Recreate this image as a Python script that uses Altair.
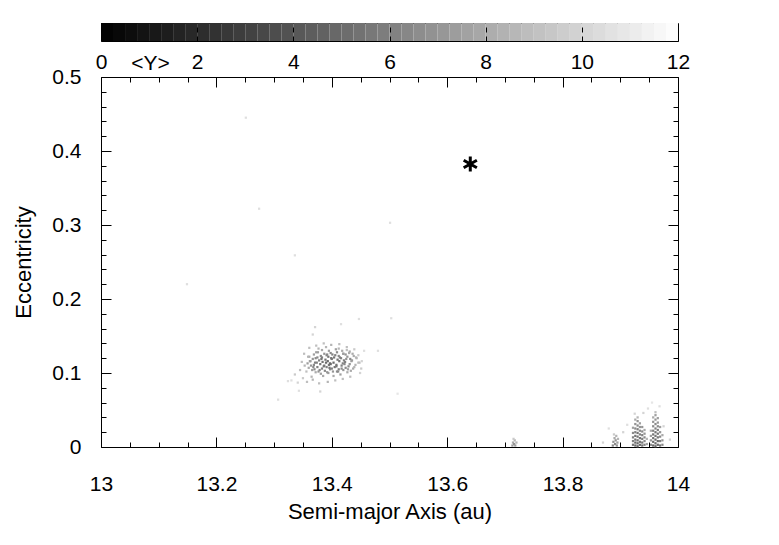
import altair as alt
import pandas as pd

FONT = "Liberation Sans"
W, H = 577, 370

# ---- stable island near a = 13.4 au (dense core) ----
core_a = [13.372, 13.381, 13.394, 13.402, 13.415, 13.427,
          13.366, 13.377, 13.388, 13.397, 13.409, 13.420, 13.433,
          13.360, 13.370, 13.383, 13.391, 13.400, 13.412, 13.424, 13.437,
          13.364, 13.375, 13.386, 13.395, 13.405, 13.417, 13.429, 13.441,
          13.358, 13.369, 13.380, 13.390, 13.398, 13.408, 13.419, 13.431,
          13.363, 13.374, 13.384, 13.393, 13.403, 13.413, 13.423, 13.435, 13.446,
          13.367, 13.378, 13.389, 13.399, 13.410, 13.421, 13.432, 13.443,
          13.361, 13.372, 13.383, 13.394, 13.404, 13.416, 13.427, 13.438,
          13.369, 13.381, 13.391, 13.401, 13.412, 13.424, 13.436,
          13.376, 13.387, 13.398, 13.409, 13.420, 13.431,
          13.383, 13.395, 13.407, 13.418]
core_e = [0.101, 0.099, 0.100, 0.102, 0.098, 0.101,
          0.104, 0.102, 0.103, 0.105, 0.102, 0.104, 0.103,
          0.107, 0.105, 0.106, 0.108, 0.106, 0.105, 0.107, 0.106,
          0.110, 0.108, 0.109, 0.111, 0.108, 0.110, 0.109, 0.111,
          0.113, 0.111, 0.112, 0.114, 0.112, 0.111, 0.113, 0.112,
          0.116, 0.114, 0.115, 0.116, 0.114, 0.116, 0.115, 0.117, 0.114,
          0.119, 0.117, 0.118, 0.120, 0.118, 0.117, 0.119, 0.120,
          0.122, 0.120, 0.121, 0.122, 0.121, 0.120, 0.122, 0.123,
          0.125, 0.123, 0.124, 0.125, 0.123, 0.125, 0.126,
          0.128, 0.126, 0.127, 0.128, 0.126, 0.129,
          0.131, 0.130, 0.132, 0.130]
core_y = [8.0, 7.5, 7.5, 7.0, 7.5, 8.0,
          7.5, 7.0, 6.5, 6.5, 6.5, 7.0, 8.0,
          8.0, 6.5, 6.0, 6.0, 6.0, 6.0, 6.5, 8.0,
          7.0, 6.0, 5.5, 5.5, 5.5, 6.0, 6.5, 8.5,
          7.5, 6.5, 5.5, 5.0, 5.0, 5.5, 6.0, 7.0,
          7.0, 6.0, 5.3, 5.0, 5.0, 5.3, 6.0, 7.0, 9.0,
          7.0, 6.0, 5.5, 5.3, 5.3, 6.0, 6.5, 8.5,
          8.0, 6.5, 6.0, 5.5, 5.5, 6.0, 7.0, 8.0,
          7.5, 6.5, 6.0, 6.0, 6.5, 7.0, 8.0,
          7.5, 7.0, 6.5, 6.5, 7.0, 8.0,
          8.0, 7.5, 7.5, 8.0]

# ---- extra irregular points inside the island ----
core2_a = [13.353, 13.356, 13.359, 13.365, 13.371, 13.373, 13.379, 13.382,
           13.385, 13.387, 13.392, 13.396, 13.400, 13.403, 13.406, 13.411,
           13.414, 13.417, 13.422, 13.425, 13.428, 13.430, 13.434, 13.439,
           13.442, 13.448, 13.451, 13.377, 13.390, 13.412, 13.426, 13.368,
           13.362, 13.397, 13.408, 13.392, 13.420, 13.375]
core2_e = [0.110, 0.102, 0.122, 0.095, 0.114, 0.128, 0.104, 0.119,
           0.096, 0.110, 0.125, 0.107, 0.119, 0.096, 0.124, 0.102,
           0.121, 0.106, 0.112, 0.119, 0.105, 0.127, 0.116, 0.108,
           0.121, 0.114, 0.106, 0.133, 0.135, 0.133, 0.131, 0.108,
           0.116, 0.113, 0.109, 0.101, 0.126, 0.121]
core2_y = [8.5, 9.0, 8.5, 8.5, 6.0, 7.5, 6.5, 5.5,
           8.0, 5.5, 6.5, 5.5, 5.5, 8.0, 6.0, 6.5,
           6.0, 6.5, 6.5, 7.0, 7.5, 8.0, 7.5, 8.5,
           8.5, 9.0, 9.5, 8.5, 8.5, 8.5, 9.0, 6.5,
           7.5, 5.0, 5.5, 7.0, 7.5, 6.5]

# ---- sparse halo around the island ----
halo_a = [13.336, 13.341, 13.345, 13.348, 13.350, 13.352, 13.357, 13.361,
          13.367, 13.373, 13.378, 13.386, 13.393, 13.399, 13.406, 13.413,
          13.419, 13.426, 13.432, 13.439, 13.446, 13.449, 13.452, 13.456,
          13.343, 13.330, 13.367, 13.371, 13.416, 13.447, 13.503, 13.480,
          13.324, 13.307, 13.514, 13.380]
halo_e = [0.098, 0.087, 0.104, 0.115, 0.093, 0.126, 0.088, 0.134,
          0.091, 0.137, 0.086, 0.140, 0.088, 0.138, 0.090, 0.139,
          0.092, 0.135, 0.095, 0.132, 0.124, 0.100, 0.116, 0.130,
          0.076, 0.090, 0.152, 0.162, 0.166, 0.173, 0.174, 0.130,
          0.089, 0.064, 0.072, 0.075]
halo_y = [9.5, 10.0, 9.0, 9.0, 9.5, 9.0, 9.0, 9.0,
          8.5, 9.0, 9.0, 9.0, 8.5, 8.5, 9.0, 9.0,
          9.0, 9.0, 9.0, 9.5, 9.5, 10.0, 10.0, 10.5,
          10.5, 10.5, 10.0, 10.0, 10.5, 10.5, 10.5, 10.5,
          10.5, 10.5, 10.8, 10.0]

# ---- isolated faint points ----
iso_a = [13.251, 13.274, 13.501, 13.336, 13.149]
iso_e = [0.445, 0.322, 0.303, 0.259, 0.220]
iso_y = [10.5, 10.5, 10.5, 10.5, 10.5]

# ---- low-eccentricity patches near 13.7 and 13.9 au ----
br_a = [13.713, 13.714, 13.716, 13.717, 13.718, 13.720, 13.715,
        13.887, 13.888, 13.890, 13.891, 13.892, 13.893, 13.894, 13.895, 13.896, 13.889,
        13.922, 13.922, 13.922, 13.922, 13.922,
        13.926, 13.926, 13.926, 13.926, 13.926, 13.926, 13.926, 13.926,
        13.930, 13.930, 13.930, 13.930, 13.930, 13.930, 13.930, 13.930, 13.930,
        13.934, 13.934, 13.934, 13.934, 13.934, 13.934, 13.934,
        13.938, 13.938, 13.938, 13.938, 13.938, 13.938,
        13.942, 13.942, 13.942, 13.942, 13.942,
        13.946, 13.946,
        13.953, 13.953, 13.953, 13.953,
        13.957, 13.957, 13.957, 13.957, 13.957, 13.957, 13.957, 13.957,
        13.961, 13.961, 13.961, 13.961, 13.961, 13.961, 13.961, 13.961, 13.961, 13.961,
        13.965, 13.965, 13.965, 13.965, 13.965, 13.965, 13.965, 13.965,
        13.969, 13.969, 13.969, 13.969, 13.969,
        13.973, 13.973, 13.973,
        13.905, 13.912, 13.948, 13.975, 13.968, 13.940, 13.880, 13.955, 13.986, 13.870, 13.925]
br_e = [0.002, 0.006, 0.004, 0.009, 0.002, 0.006, 0.011,
        0.002, 0.007, 0.012, 0.004, 0.009, 0.015, 0.002, 0.006, 0.011, 0.017,
        0.003, 0.008, 0.013, 0.019, 0.026,
        0.002, 0.006, 0.010, 0.015, 0.020, 0.025, 0.031, 0.037,
        0.001, 0.005, 0.009, 0.014, 0.019, 0.024, 0.029, 0.035, 0.040,
        0.003, 0.007, 0.012, 0.017, 0.022, 0.027, 0.032,
        0.002, 0.006, 0.011, 0.016, 0.021, 0.027,
        0.003, 0.008, 0.013, 0.018, 0.023,
        0.004, 0.011,
        0.003, 0.009, 0.015, 0.022,
        0.002, 0.007, 0.012, 0.017, 0.022, 0.028, 0.034, 0.040,
        0.001, 0.005, 0.010, 0.015, 0.020, 0.025, 0.031, 0.037, 0.043, 0.047,
        0.003, 0.008, 0.013, 0.018, 0.023, 0.028, 0.033, 0.039,
        0.002, 0.008, 0.014, 0.020, 0.027,
        0.003, 0.009, 0.016,
        0.020, 0.030, 0.052, 0.028, 0.055, 0.046, 0.025, 0.060, 0.010, 0.006, 0.045]
br_y = [7.5, 8.0, 7.0, 8.5, 7.5, 8.5, 9.5,
        6.5, 7.0, 8.0, 6.5, 7.0, 8.5, 7.0, 7.5, 8.5, 9.5,
        5.5, 6.0, 6.0, 6.5, 7.5,
        5.0, 5.0, 5.5, 5.5, 6.0, 6.5, 7.0, 8.0,
        5.0, 5.0, 5.3, 5.5, 5.5, 6.0, 6.5, 7.0, 8.5,
        5.0, 5.5, 5.5, 6.0, 6.5, 7.0, 7.5,
        5.5, 5.5, 6.0, 6.0, 6.5, 7.0,
        6.0, 6.5, 6.5, 7.0, 8.0,
        7.5, 8.5,
        6.5, 7.0, 7.5, 8.0,
        5.0, 5.0, 5.5, 5.5, 6.0, 6.5, 7.0, 8.0,
        5.0, 5.0, 5.0, 5.5, 5.5, 6.0, 6.5, 7.0, 7.5, 9.0,
        5.0, 5.0, 5.5, 5.5, 6.0, 6.5, 7.0, 7.5,
        5.5, 6.0, 6.5, 7.0, 7.5,
        6.5, 7.0, 8.0,
        10.0, 10.5, 10.5, 10.0, 10.5, 10.0, 10.5, 10.8, 10.0, 10.0, 10.0]

# ---- planet position (asterisk) ----
star_a = [13.64]
star_e = [0.3824]

# ---- axes ----
x_major = [13.0, 13.2, 13.4, 13.6, 13.8, 14.0]
x_minor = [13.05, 13.1, 13.15, 13.25, 13.3, 13.35, 13.45, 13.5, 13.55,
           13.65, 13.7, 13.75, 13.85, 13.9, 13.95]
y_major = [0.0, 0.1, 0.2, 0.3, 0.4, 0.5]
y_minor = [0.02, 0.04, 0.06, 0.08, 0.12, 0.14, 0.16, 0.18, 0.22, 0.24, 0.26, 0.28,
           0.32, 0.34, 0.36, 0.38, 0.42, 0.44, 0.46, 0.48]
cb_ticks = [0, 2, 4, 6, 8, 10, 12]

pts = pd.DataFrame({
    "a": core_a + core2_a + halo_a + iso_a + br_a,
    "e": core_e + core2_e + halo_e + iso_e + br_e,
    "Y": core_y + core2_y + halo_y + iso_y + br_y,
})
star = pd.DataFrame({"a": star_a, "e": star_e})
dummy = pd.DataFrame({"a": [13.0], "e": [0.0]})

cb_lo = [i * 0.25 for i in range(48)]
cbdf = pd.DataFrame({"lo": cb_lo, "hi": [v + 0.25 for v in cb_lo],
                     "mid": [v + 0.125 for v in cb_lo]})

xs = alt.Scale(domain=[13, 14], nice=False, zero=False)
ys = alt.Scale(domain=[0, 0.5], nice=False, zero=False)
cs = alt.Scale(domain=[0, 12], range=["#000000", "#ffffff"], interpolate="rgb")


def tick_axis(orient, offset, values, size):
    return alt.Axis(orient=orient, offset=offset, values=values, tickSize=size,
                    labels=False, domain=False, grid=False, title=None,
                    ticks=True, tickColor="black", tickWidth=1, zindex=2)


label_x = alt.Axis(orient="bottom", values=x_major, format="~g", ticks=False,
                   domain=False, grid=False, labelFontSize=21, labelPadding=26,
                   labelFlush=False, labelColor="black",
                   title="Semi-major Axis (au)",
                   titleFontSize=22, titleFontWeight="normal", titlePadding=7,
                   titleColor="black")
label_y = alt.Axis(orient="left", values=y_major, format="~g", ticks=False,
                   domain=False, grid=False, labelFontSize=21, labelPadding=20,
                   labelFlush=False, labelColor="black", title="Eccentricity",
                   titleFontSize=22, titleFontWeight="normal", titlePadding=16,
                   titleColor="black")

L0 = alt.Chart(pts).mark_square(size=5, opacity=1).encode(
    x=alt.X("a:Q", scale=xs, axis=label_x),
    y=alt.Y("e:Q", scale=ys, axis=label_y),
    color=alt.Color("Y:Q", scale=cs, legend=None),
)
L1 = alt.Chart(star).mark_point(
    shape="M0,-1L0,1M-0.87,-0.5L0.87,0.5M-0.87,0.5L0.87,-0.5",
    size=230, filled=False, stroke="black", strokeWidth=3, opacity=1,
).encode(
    x=alt.X("a:Q", scale=xs, axis=tick_axis("top", -H, x_major, 10)),
    y=alt.Y("e:Q", scale=ys, axis=tick_axis("right", -W, y_major, 10)),
)
L2 = alt.Chart(dummy).mark_point(opacity=0).encode(
    x=alt.X("a:Q", scale=xs, axis=tick_axis("top", -H, x_minor, 5)),
    y=alt.Y("e:Q", scale=ys, axis=tick_axis("right", -W, y_minor, 5)),
)
L3 = alt.Chart(dummy).mark_point(opacity=0).encode(
    x=alt.X("a:Q", scale=xs, axis=tick_axis("bottom", -H, x_major, 10)),
    y=alt.Y("e:Q", scale=ys, axis=tick_axis("left", -W, y_major, 10)),
)
L4 = alt.Chart(dummy).mark_point(opacity=0).encode(
    x=alt.X("a:Q", scale=xs, axis=tick_axis("bottom", -H, x_minor, 5)),
    y=alt.Y("e:Q", scale=ys, axis=tick_axis("left", -W, y_minor, 5)),
)

main = alt.layer(L0, L1, L2, L3, L4).resolve_axis(
    x="independent", y="independent").properties(width=W, height=H)

cb_axis = alt.Axis(orient="bottom", values=cb_ticks, ticks=False, domain=False,
                   grid=True, gridColor="black", gridDash=[5, 4], gridWidth=1,
                   gridOpacity=1, labelFontSize=21, labelPadding=10,
                   labelFlush=False, labelColor="black", title="<Y>",
                   titleX=49, titleY=22, titleFontSize=21,
                   titleFontWeight="normal", titleAlign="center",
                   titleBaseline="middle", titleColor="black", zindex=1)

cb = alt.Chart(cbdf).mark_rect().encode(
    x=alt.X("lo:Q", scale=alt.Scale(domain=[0, 12], nice=False, zero=False),
            axis=cb_axis),
    x2="hi:Q",
    color=alt.Color("mid:Q", scale=cs, legend=None),
).properties(width=W, height=18)

chart = alt.vconcat(cb, main, spacing=36, bounds="flush").properties(
    padding={"left": 4, "top": 14, "right": 10, "bottom": 5}
).configure(font=FONT).configure_view(stroke="black", strokeWidth=1)

chart.save("out.html", embed_options={"renderer": "svg", "actions": False})
